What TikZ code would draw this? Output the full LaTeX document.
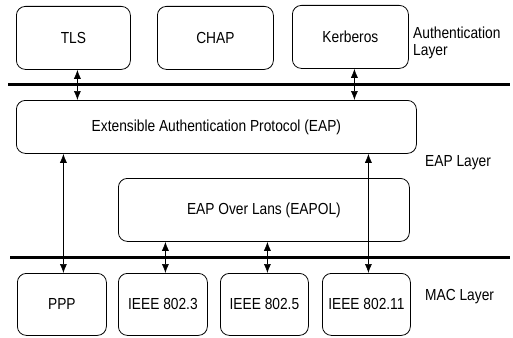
\documentclass[tikz,border=0pt]{standalone}
\usepackage{fontspec}
\setmainfont{Liberation Sans}[FakeStretch=0.86]
\usetikzlibrary{arrows.meta}
\begin{document}
\begin{tikzpicture}[x=1pt,y=-1pt,
  font=\fontsize{16}{17.5}\selectfont,
  box/.style={draw=black,line width=0.8pt,rounded corners=9pt,inner sep=0pt,anchor=north west},
  layerbar/.style={line width=3pt},
  link/.style={line width=0.6pt,{Latex[length=9pt,width=7pt]}-{Latex[length=9pt,width=7pt]}},
  layerlabel/.style={anchor=west,align=left,inner sep=0pt}]
\useasboundingbox (0,0) rectangle (513,337);

% authentication layer
\node[box,minimum width=114pt,minimum height=63pt] (tls) at (16,6) {TLS};
\node[box,minimum width=116pt,minimum height=63pt] (chap) at (157,6) {CHAP};
\node[box,minimum width=116pt,minimum height=63pt] (kerb) at (292,5) {Kerberos};
\node[layerlabel] (authlbl) at (413,43) {Authentication\\Layer};

\coordinate (bar1l) at (8,84.5);
\coordinate (bar1r) at (510,84.5);
\draw[layerbar] (bar1l) -- (bar1r);

% EAP layer
\node[box,minimum width=400pt,minimum height=53pt] (eap) at (16,100)
  {Extensible Authentication Protocol (EAP)};
\node[box,minimum width=291pt,minimum height=63pt] (eapol) at (118,178)
  {EAP Over Lans (EAPOL)};
\node[layerlabel] (eaplbl) at (425,163) {EAP Layer};

\coordinate (bar2l) at (10,257);
\coordinate (bar2r) at (510,257);
\draw[layerbar] (bar2l) -- (bar2r);

% MAC layer
\node[box,minimum width=89pt,minimum height=62pt] (ppp) at (17,273) {PPP};
\node[box,minimum width=89pt,minimum height=62pt] (e3) at (118,273) {IEEE 802.3};
\node[box,minimum width=88pt,minimum height=62pt] (e5) at (220,273) {IEEE 802.5};
\node[box,minimum width=88pt,minimum height=62pt] (e11) at (322,273) {IEEE 802.11};
\node[layerlabel] (maclbl) at (425,297) {MAC Layer};

% attachment points of the links
\coordinate (tlsdn) at ([xshift=4pt]tls.south);
\coordinate (kerbdn) at ([xshift=4pt]kerb.south);
\coordinate (pppup) at ([xshift=1.5pt]ppp.north);
\coordinate (e11up) at ([xshift=2pt]e11.north);
\coordinate (e3up) at ([xshift=2.5pt]e3.north);
\coordinate (e5up) at ([xshift=3pt]e5.north);

% links between layers
\draw[link] (tlsdn) -- (tlsdn |- eap.north);
\draw[link] (kerbdn) -- (kerbdn |- eap.north);
\draw[link] (pppup |- eap.south) -- (pppup);
\draw[link] (e11up |- eap.south) -- (e11up);
\draw[link] (e3up |- eapol.south) -- (e3up);
\draw[link] (e5up |- eapol.south) -- (e5up);
\end{tikzpicture}
\end{document}
